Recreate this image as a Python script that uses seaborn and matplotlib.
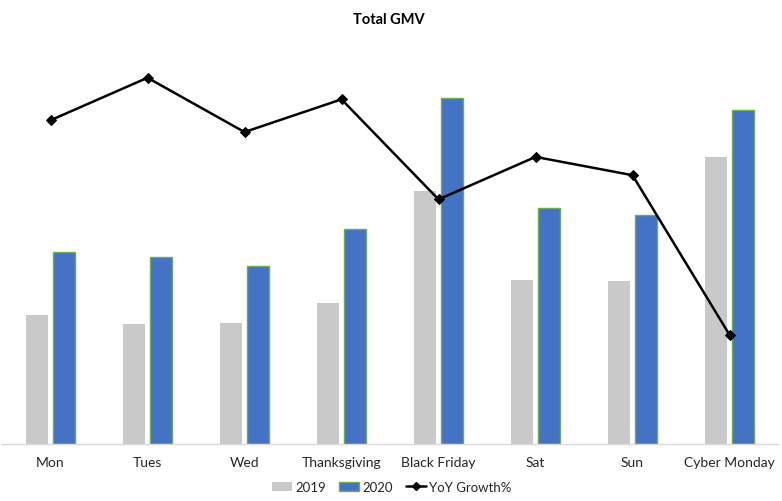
import matplotlib
matplotlib.use("Agg")
import matplotlib.pyplot as plt
import seaborn as sns
import pandas as pd
from matplotlib.patches import Patch
from matplotlib.lines import Line2D

days = ["Mon", "Tues", "Wed", "Thanksgiving", "Black Friday", "Sat", "Sun", "Cyber Monday"]
gmv_2019 = [129, 120, 121, 141, 253, 164, 163, 287]
gmv_2020 = [192, 187, 178, 215, 346, 236, 229, 334]
yoy_growth = [49.5, 56.0, 47.7, 52.7, 37.4, 43.9, 41.1, 16.7]

sns.set_theme(style="white")
plt.rcParams['font.family'] = ['Lato', 'DejaVu Sans']

df = pd.DataFrame({
    "day": days * 2,
    "value": gmv_2019 + gmv_2020,
    "year": ["2019"] * len(days) + ["2020"] * len(days),
})

fig = plt.figure(figsize=(7.82, 5.02), dpi=100)
ax = fig.add_axes([2 / 782, 57 / 502, 776 / 782, 415 / 502])

sns.barplot(data=df, x="day", y="value", hue="year", order=days,
            palette={"2019": "#C9C9C9", "2020": "#4472C4"},
            width=0.557, gap=0.21, ax=ax, legend=False, saturation=1)
for p in ax.patches:
    fc = p.get_facecolor()
    if abs(fc[2] - 0xC4 / 255) < 0.02 and fc[0] < 0.5:
        p.set_edgecolor("#70AD47")
        p.set_linewidth(1.0)
    else:
        p.set_linewidth(0)

ax.set_ylim(0, 415)
ax.set_xlim(-0.5, len(days) - 0.5)
ax.set_xlabel("")
ax.set_ylabel("")
ax.set_yticks([])
ax.tick_params(axis="x", length=0, labelsize=10, labelcolor="#262626", pad=9)
for s in ["top", "right", "left"]:
    ax.spines[s].set_visible(False)
ax.spines["bottom"].set_color("#D9D9D9")
ax.spines["bottom"].set_linewidth(1)

ax2 = ax.twinx()
sns.lineplot(x=list(range(len(days))), y=yoy_growth, ax=ax2, color="black",
             linewidth=1.8, marker="D", markersize=5, markeredgecolor="black")
ax2.set_ylim(0, 415 / 6.54)
ax2.set_yticks([])
ax2.set_ylabel("")
for s in ax2.spines.values():
    s.set_visible(False)

fig.text(389 / 782, 1 - 20 / 502, "Total GMV", ha="center", va="center",
         fontsize=10.5, fontweight="bold", color="black")

handles = [
    Patch(facecolor="#C9C9C9", edgecolor="none", label="2019"),
    Patch(facecolor="#4472C4", edgecolor="#70AD47", linewidth=1.0, label="2020"),
    Line2D([0], [0], color="black", lw=1.8, marker="D", markersize=4, label="YoY Growth%"),
]
fig.legend(handles=handles, loc="center", bbox_to_anchor=(392 / 782, 1 - 488 / 502),
           ncol=3, frameon=False, fontsize=9.5, handlelength=1.5, handleheight=0.7,
           columnspacing=1.0, handletextpad=0.25, labelcolor="#262626")

fig.savefig("out.png", dpi=100)
